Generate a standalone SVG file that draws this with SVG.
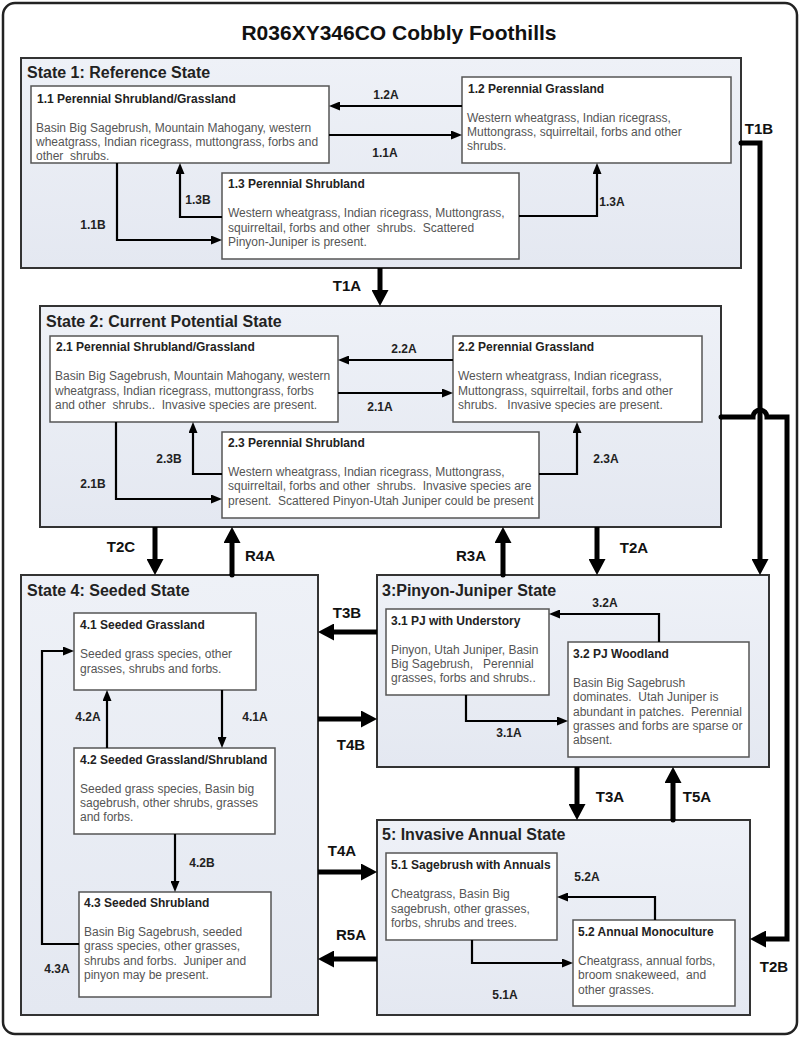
<svg xmlns="http://www.w3.org/2000/svg" width="800" height="1037" viewBox="0 0 800 1037">
<defs>
<linearGradient id="sg" x1="0" y1="0" x2="0" y2="1">
<stop offset="0" stop-color="#eef1f7"/>
<stop offset="1" stop-color="#e4e8f1"/>
</linearGradient>
<marker id="ah" markerUnits="userSpaceOnUse" markerWidth="11" markerHeight="9" refX="4" refY="4.5" orient="auto">
<path d="M0,0 L11,4.5 L0,9 z" fill="#000"/>
</marker>
<marker id="AH" markerUnits="userSpaceOnUse" markerWidth="16" markerHeight="17" refX="6" refY="8.5" orient="auto">
<path d="M0,0 L16,8.5 L0,17 z" fill="#000"/>
</marker>
</defs>
<style>
.state{fill:url(#sg);stroke:#333;stroke-width:2}
.node{fill:#fff;stroke:#555;stroke-width:1.5}
.st{font-family:"Liberation Sans",Arial,sans-serif;font-weight:bold;font-size:16px;fill:#222}
.nt{font-family:"Liberation Sans",Arial,sans-serif;font-weight:bold;font-size:12px;fill:#222}
.bt{font-family:"Liberation Sans",Arial,sans-serif;font-size:12px;fill:#555;white-space:pre}
.lb{font-family:"Liberation Sans",Arial,sans-serif;font-weight:bold;font-size:12px;fill:#222;text-anchor:middle}
.LB{font-family:"Liberation Sans",Arial,sans-serif;font-weight:bold;font-size:15px;fill:#111;text-anchor:middle}
.thin{fill:none;stroke:#000;stroke-width:2.2;marker-end:url(#ah)}
.thick{fill:none;stroke:#000;stroke-width:5;marker-end:url(#AH)}
</style>
<rect x="3" y="3" width="794" height="1031" rx="12" fill="#fff" stroke="#222" stroke-width="2.5"/>
<text x="399" y="40" text-anchor="middle" font-family="Liberation Sans, Arial, sans-serif" font-weight="bold" font-size="21" fill="#111">R036XY346CO Cobbly Foothills</text>

<g id="state1">
<rect class="state" x="21" y="58" width="720" height="210"/>
<text class="st" x="27" y="78">State 1: Reference State</text>
</g>
<g id="n11">
<rect class="node" x="31" y="86" width="298" height="77"/>
<text class="nt" x="37" y="103">1.1 Perennial Shrubland/Grassland</text>
<text class="bt" x="36" y="132">Basin Big Sagebrush, Mountain Mahogany, western</text>
<text class="bt" x="36" y="146">wheatgrass, Indian ricegrass, muttongrass, forbs and</text>
<text class="bt" x="36" y="160">other  shrubs.</text>
</g>
<g id="n12">
<rect class="node" x="462" y="77" width="269" height="86"/>
<text class="nt" x="468" y="93">1.2 Perennial Grassland</text>
<text class="bt" x="467" y="122">Western wheatgrass, Indian ricegrass,</text>
<text class="bt" x="467" y="136">Muttongrass, squirreltail, forbs and other</text>
<text class="bt" x="467" y="150">shrubs.</text>
</g>
<g id="n13">
<rect class="node" x="222" y="173" width="297" height="86"/>
<text class="nt" x="228" y="188">1.3 Perennial Shrubland</text>
<text class="bt" x="228" y="217">Western wheatgrass, Indian ricegrass, Muttongrass,</text>
<text class="bt" x="228" y="232">squirreltail, forbs and other  shrubs.  Scattered</text>
<text class="bt" x="228" y="246">Pinyon-Juniper is present.</text>
</g>

<g id="state2">
<rect class="state" x="40" y="306" width="681" height="221"/>
<text class="st" x="46" y="327">State 2: Current Potential State</text>
</g>
<g id="n21">
<rect class="node" x="50" y="336" width="288" height="86"/>
<text class="nt" x="56" y="351">2.1 Perennial Shrubland/Grassland</text>
<text class="bt" x="55" y="380">Basin Big Sagebrush, Mountain Mahogany, western</text>
<text class="bt" x="55" y="395">wheatgrass, Indian ricegrass, muttongrass, forbs</text>
<text class="bt" x="55" y="409">and other  shrubs..  Invasive species are present.</text>
</g>
<g id="n22">
<rect class="node" x="453" y="336" width="249" height="86"/>
<text class="nt" x="458" y="351">2.2 Perennial Grassland</text>
<text class="bt" x="458" y="380">Western wheatgrass, Indian ricegrass,</text>
<text class="bt" x="458" y="395">Muttongrass, squirreltail, forbs and other</text>
<text class="bt" x="458" y="409">shrubs.   Invasive species are present.</text>
</g>
<g id="n23">
<rect class="node" x="222" y="432" width="317" height="86"/>
<text class="nt" x="228" y="447">2.3 Perennial Shrubland</text>
<text class="bt" x="228" y="476">Western wheatgrass, Indian ricegrass, Muttongrass,</text>
<text class="bt" x="228" y="490">squirreltail, forbs and other  shrubs.  Invasive species are</text>
<text class="bt" x="228" y="505">present.  Scattered Pinyon-Utah Juniper could be present</text>
</g>

<g id="state4">
<rect class="state" x="21" y="575" width="297" height="440"/>
<text class="st" x="27" y="596">State 4: Seeded State</text>
</g>
<g id="n41">
<rect class="node" x="74" y="613" width="182" height="77"/>
<text class="nt" x="80" y="629">4.1 Seeded Grassland</text>
<text class="bt" x="80" y="658">Seeded grass species, other</text>
<text class="bt" x="80" y="673">grasses, shrubs and forbs.</text>
</g>
<g id="n42">
<rect class="node" x="74" y="748" width="201" height="86"/>
<text class="nt" x="80" y="764">4.2 Seeded Grassland/Shrubland</text>
<text class="bt" x="80" y="793">Seeded grass species, Basin big</text>
<text class="bt" x="80" y="807">sagebrush, other shrubs, grasses</text>
<text class="bt" x="80" y="821">and forbs.</text>
</g>
<g id="n43">
<rect class="node" x="79" y="892" width="192" height="105"/>
<text class="nt" x="84" y="907">4.3 Seeded Shrubland</text>
<text class="bt" x="84" y="936">Basin Big Sagebrush, seeded</text>
<text class="bt" x="84" y="950">grass species, other grasses,</text>
<text class="bt" x="84" y="965">shrubs and forbs.  Juniper and</text>
<text class="bt" x="84" y="979">pinyon may be present.</text>
</g>

<g id="state3">
<rect class="state" x="377" y="575" width="392" height="192"/>
<text class="st" x="382" y="596">3:Pinyon-Juniper State</text>
</g>
<g id="n31">
<rect class="node" x="386" y="609" width="163" height="86"/>
<text class="nt" x="391" y="625">3.1 PJ with Understory</text>
<text class="bt" x="391" y="654">Pinyon, Utah Juniper, Basin</text>
<text class="bt" x="391" y="668">Big Sagebrush,   Perennial</text>
<text class="bt" x="391" y="682">grasses, forbs and shrubs..</text>
</g>
<g id="n32">
<rect class="node" x="568" y="642" width="181" height="115"/>
<text class="nt" x="573" y="658">3.2 PJ Woodland</text>
<text class="bt" x="573" y="687">Basin Big Sagebrush</text>
<text class="bt" x="573" y="701">dominates.  Utah Juniper is</text>
<text class="bt" x="573" y="716">abundant in patches.  Perennial</text>
<text class="bt" x="573" y="730">grasses and forbs are sparse or</text>
<text class="bt" x="573" y="744">absent.</text>
</g>

<g id="state5">
<rect class="state" x="377" y="820" width="373" height="195"/>
<text class="st" x="382" y="840">5: Invasive Annual State</text>
</g>
<g id="n51">
<rect class="node" x="386" y="853" width="171" height="87"/>
<text class="nt" x="391" y="869">5.1 Sagebrush with Annuals</text>
<text class="bt" x="391" y="898">Cheatgrass, Basin Big</text>
<text class="bt" x="391" y="913">sagebrush, other grasses,</text>
<text class="bt" x="391" y="927">forbs, shrubs and trees.</text>
</g>
<g id="n52">
<rect class="node" x="573" y="920" width="162" height="86"/>
<text class="nt" x="578" y="936">5.2 Annual Monoculture</text>
<text class="bt" x="578" y="965">Cheatgrass, annual forbs,</text>
<text class="bt" x="578" y="979">broom snakeweed,  and</text>
<text class="bt" x="578" y="994">other grasses.</text>
</g>

<g id="connectors">
<path class="thin" d="M462,106 H336"/>
<path class="thin" d="M329,135 H455"/>
<path class="thin" d="M117,163 V240 H215"/>
<path class="thin" d="M222,217 H180 V170"/>
<path class="thin" d="M519,216 H597 V170"/>
<path class="thin" d="M453,360 H345"/>
<path class="thin" d="M338,393 H446"/>
<path class="thin" d="M116,422 V499 H215"/>
<path class="thin" d="M222,474 H193 V429"/>
<path class="thin" d="M539,474 H577 V429"/>
<path class="thin" d="M222,690 V741"/>
<path class="thin" d="M107,748 V697"/>
<path class="thin" d="M175,834 V885"/>
<path class="thin" d="M79,944 H42 V651 H67"/>
<path class="thin" d="M659,642 V614 H556"/>
<path class="thin" d="M466,695 V721 H561"/>
<path class="thin" d="M655,920 V897 H564"/>
<path class="thin" d="M472,940 V963 H566"/>

<path class="thick" d="M380,268 V296"/>
<path class="thick" d="M741,143 H760 V565"/>
<path class="thick" d="M721,417 H753 A7,7 0 0 1 767,417 H787 V939 H760"/>
<path class="thick" d="M155,527 V565"/>
<path class="thick" d="M232,575 V537"/>
<path class="thick" d="M503,575 V537"/>
<path class="thick" d="M597,527 V565"/>
<path class="thick" d="M377,632 H328"/>
<path class="thick" d="M318,719 H367"/>
<path class="thick" d="M577,767 V810"/>
<path class="thick" d="M673,820 V777"/>
<path class="thick" d="M318,872 H367"/>
<path class="thick" d="M377,959 H328"/>
<circle cx="741" cy="143" r="2.5"/>
<circle cx="721" cy="417" r="2.5"/>
<circle cx="232" cy="575" r="2.5"/>
<circle cx="503" cy="575" r="2.5"/>
<circle cx="673" cy="820" r="2.5"/>

<text class="lb" x="386" y="99">1.2A</text>
<text class="lb" x="385" y="157">1.1A</text>
<text class="lb" x="93" y="229">1.1B</text>
<text class="lb" x="198" y="204">1.3B</text>
<text class="lb" x="612" y="206">1.3A</text>
<text class="lb" x="404" y="353">2.2A</text>
<text class="lb" x="380" y="411">2.1A</text>
<text class="lb" x="93" y="488">2.1B</text>
<text class="lb" x="169" y="463">2.3B</text>
<text class="lb" x="606" y="463">2.3A</text>
<text class="lb" x="255" y="721">4.1A</text>
<text class="lb" x="88" y="721">4.2A</text>
<text class="lb" x="202" y="867">4.2B</text>
<text class="lb" x="57" y="973">4.3A</text>
<text class="lb" x="605" y="607">3.2A</text>
<text class="lb" x="509" y="737">3.1A</text>
<text class="lb" x="587" y="881">5.2A</text>
<text class="lb" x="505" y="999">5.1A</text>

<text class="LB" x="347" y="291">T1A</text>
<text class="LB" x="759" y="134">T1B</text>
<text class="LB" x="774" y="972">T2B</text>
<text class="LB" x="121" y="552">T2C</text>
<text class="LB" x="260" y="561">R4A</text>
<text class="LB" x="471" y="561">R3A</text>
<text class="LB" x="634" y="553">T2A</text>
<text class="LB" x="347" y="618">T3B</text>
<text class="LB" x="351" y="750">T4B</text>
<text class="LB" x="610" y="802">T3A</text>
<text class="LB" x="697" y="802">T5A</text>
<text class="LB" x="342" y="856">T4A</text>
<text class="LB" x="351" y="940">R5A</text>
</g>
</svg>
